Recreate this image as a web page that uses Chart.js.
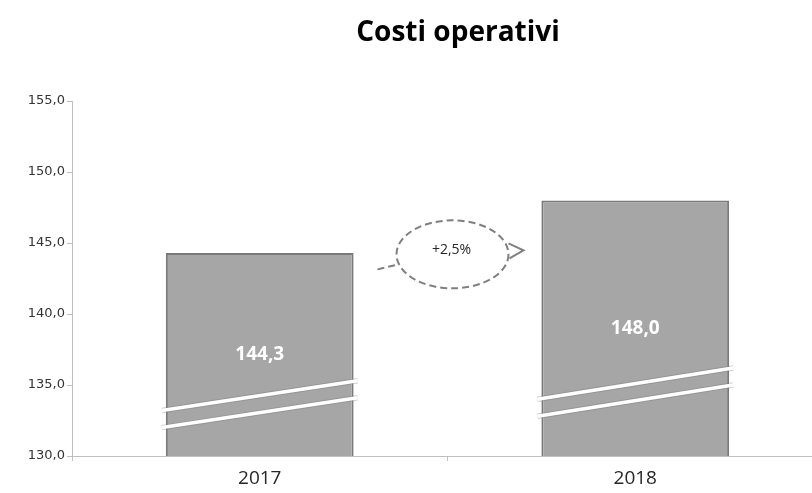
<!DOCTYPE html>
<html>
<head>
<meta charset="utf-8">
<script src="https://cdn.jsdelivr.net/npm/chart.js@4/dist/chart.umd.min.js"></script>
<style>
  html, body { margin: 0; padding: 0; background: #ffffff; overflow: hidden; }
  #finestra { width: 812px; height: 493px; overflow: hidden; }
  #contenitore { width: 823px; height: 493px; }
</style>
</head>
<body>
<div id="finestra"><div id="contenitore"><canvas id="graficoCosti"></canvas></div></div>
<script>
// dati del grafico
const anni = ["2017", "2018"];
const costi = [144.3, 148.0];
const etichetteCosti = ["144,3", "148,0"];
const titolo = "Costi operativi";
const variazione = "+2,5%";

// scala asse y
const yMin = 130;
const yMax = 155;
const yPasso = 5;

// linee di interruzione (valori y inizio/fine per ogni barra)
const rotturaSuperiore = [[133.2, 135.3], [134.0, 136.2]];
const rotturaInferiore = [[132.0, 134.1], [132.8, 135.0]];

// posizione del fumetto della variazione (valore y del centro)
const centroVariazione = 144.2;

function formattaNumero(valore) {
    return valore.toFixed(1).replace(".", ",");
}

// titolo disegnato a mano per centrarlo come nell'originale
const pluginTitolo = {
    id: "titolo",
    afterDraw(chart) {
        const ctx = chart.ctx;
        ctx.save();
        ctx.font = "bold 28px 'Open Sans'";
        ctx.fillStyle = "#000000";
        ctx.textAlign = "center";
        ctx.textBaseline = "middle";
        ctx.fillText(titolo, 458, 33);
        ctx.restore();
    }
};

// linee bianche di interruzione sulle barre
const pluginRottura = {
    id: "rottura",
    afterDatasetsDraw(chart) {
        const ctx = chart.ctx;
        const scalaY = chart.scales.y;
        const barre = chart.getDatasetMeta(0).data;
        ctx.save();
        barre.forEach((barra, i) => {
            const sinistra = barra.x - barra.width / 2 - 4;
            const destra = barra.x + barra.width / 2 + 4;
            [rotturaSuperiore[i], rotturaInferiore[i]].forEach((coppia) => {
                ctx.beginPath();
                ctx.moveTo(sinistra, scalaY.getPixelForValue(coppia[0]));
                ctx.lineTo(destra, scalaY.getPixelForValue(coppia[1]));
                ctx.strokeStyle = "rgba(120,120,120,0.35)";
                ctx.lineWidth = 5.5;
                ctx.stroke();
                ctx.strokeStyle = "#ffffff";
                ctx.lineWidth = 3.5;
                ctx.stroke();
            });
        });
        ctx.restore();
    }
};

// etichette dei valori dentro le barre
const pluginEtichette = {
    id: "etichette",
    afterDraw(chart) {
        const ctx = chart.ctx;
        const scalaX = chart.scales.x;
        const scalaY = chart.scales.y;
        ctx.save();
        ctx.font = "bold 19px 'Open Sans'";
        ctx.fillStyle = "#ffffff";
        ctx.textAlign = "center";
        ctx.textBaseline = "middle";
        costi.forEach((valore, i) => {
            const x = scalaX.getPixelForValue(i);
            const y = (scalaY.getPixelForValue(valore) + scalaY.getPixelForValue(yMin)) / 2;
            ctx.fillText(etichetteCosti[i], x, y);
        });
        ctx.restore();
    }
};

// fumetto tratteggiato con la variazione percentuale
const pluginVariazione = {
    id: "variazione",
    afterDraw(chart) {
        const ctx = chart.ctx;
        const cx = chart.scales.x.getPixelForValue(0.5) + 5;
        const cy = chart.scales.y.getPixelForValue(centroVariazione);
        const rx = 56;
        const ry = 34;
        ctx.save();
        ctx.strokeStyle = "#7f7f7f";
        ctx.lineWidth = 2;
        ctx.setLineDash([7, 4]);
        ctx.beginPath();
        ctx.ellipse(cx, cy, rx, ry, 0, 0, Math.PI * 2);
        ctx.stroke();
        // coda a sinistra
        ctx.beginPath();
        ctx.moveTo(cx - rx - 19, cy + 15);
        ctx.lineTo(cx - rx + 2, cy + 10);
        ctx.stroke();
        // punta a destra
        ctx.setLineDash([]);
        ctx.beginPath();
        ctx.moveTo(cx + rx, cy - 11);
        ctx.lineTo(cx + rx + 15, cy - 4);
        ctx.lineTo(cx + rx + 1, cy + 4);
        ctx.stroke();
        ctx.font = "14px 'Open Sans'";
        ctx.fillStyle = "#262626";
        ctx.textAlign = "center";
        ctx.textBaseline = "middle";
        ctx.fillText(variazione, cx - 1, cy - 4);
        ctx.restore();
    }
};

function creaGrafico() {
    const canvas = document.getElementById("graficoCosti");

    const data = {
        labels: anni,
        datasets: [
            {
                data: costi,
                backgroundColor: "#a6a6a6",
                borderColor: "#7a7a7a",
                borderWidth: 2,
                borderSkipped: false,
                barPercentage: 0.5,
                categoryPercentage: 1
            }
        ]
    };

    const config = {
        type: "bar",
        data,
        options: {
            responsive: true,
            maintainAspectRatio: false,
            animation: false,
            layout: { padding: { top: 101, right: 0, left: 0, bottom: 0 } },
            plugins: {
                legend: { display: false },
                title: { display: false },
                tooltip: { enabled: false }
            },
            scales: {
                x: {
                    grid: {
                        display: true,
                        offset: true,
                        drawOnChartArea: false,
                        drawTicks: true,
                        tickLength: 5,
                        color: "#bfbfbf"
                    },
                    border: { color: "#bfbfbf", width: 1 },
                    ticks: {
                        color: "#262626",
                        font: { family: "'Open Sans'", size: 19 },
                        padding: 6
                    },
                    afterFit(scala) { scala.height = 37; }
                },
                y: {
                    min: yMin,
                    max: yMax,
                    grid: {
                        drawOnChartArea: false,
                        drawTicks: true,
                        tickLength: 5,
                        color: "#bfbfbf"
                    },
                    border: { color: "#bfbfbf", width: 1 },
                    ticks: {
                        stepSize: yPasso,
                        color: "#333333",
                        font: { family: "'DejaVu Sans'", size: 13 },
                        padding: 2,
                        callback: (valore) => formattaNumero(valore)
                    },
                    afterFit(scala) { scala.width = 72; }
                }
            }
        },
        plugins: [pluginRottura, pluginEtichette, pluginVariazione, pluginTitolo]
    };

    new Chart(canvas, config);
}

creaGrafico();
</script>
</body>
</html>
